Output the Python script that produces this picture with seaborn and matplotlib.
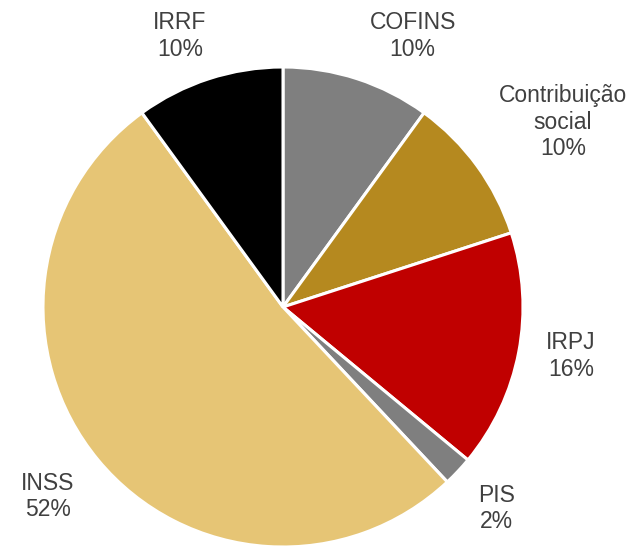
import matplotlib
matplotlib.use("Agg")
import matplotlib.pyplot as plt
import seaborn as sns

sns.set_theme(style="white")
plt.rcParams['font.family'] = ['Liberation Sans', 'DejaVu Sans']

labels = ["COFINS", "Contribuição\nsocial", "IRPJ", "PIS", "INSS", "IRRF"]
values = [10, 10, 16, 2, 52, 10]
colors = ["#7f7f7f", "#b5891f", "#c00000", "#7f7f7f", "#e6c575", "#000000"]

# label centres, in pie radius units
label_xy = [(0.54, 1.13), (1.167, 0.77), (1.2, -0.204),
            (0.89, -0.84), (-0.979, -0.79), (-0.43, 1.13)]

fig = plt.figure(figsize=(6.33, 5.47), dpi=100)
ax = fig.add_axes([0, 0, 1, 1])

wedges, texts = ax.pie(values, labels=[f"{l}\n{v}%" for l, v in zip(labels, values)],
                       colors=colors, startangle=90, counterclock=False,
                       labeldistance=1.23,
                       wedgeprops=dict(edgecolor="white", linewidth=2.2),
                       textprops=dict(fontsize=16.5, color="#404040"))
for t, pos in zip(texts, label_xy):
    t.set_position(pos)
    t.set_ha("center")
    t.set_va("center")
    t.set_linespacing(1.2)

# put the pie where the reference has it (center ~ (283, 307) px, radius ~240 px)
ax.set_aspect("auto")
ax.set_xlim(-283 / 240, (633 - 283) / 240)
ax.set_ylim(-(547 - 307) / 240, 307 / 240)
ax.axis("off")

fig.savefig("out.png", dpi=100)
